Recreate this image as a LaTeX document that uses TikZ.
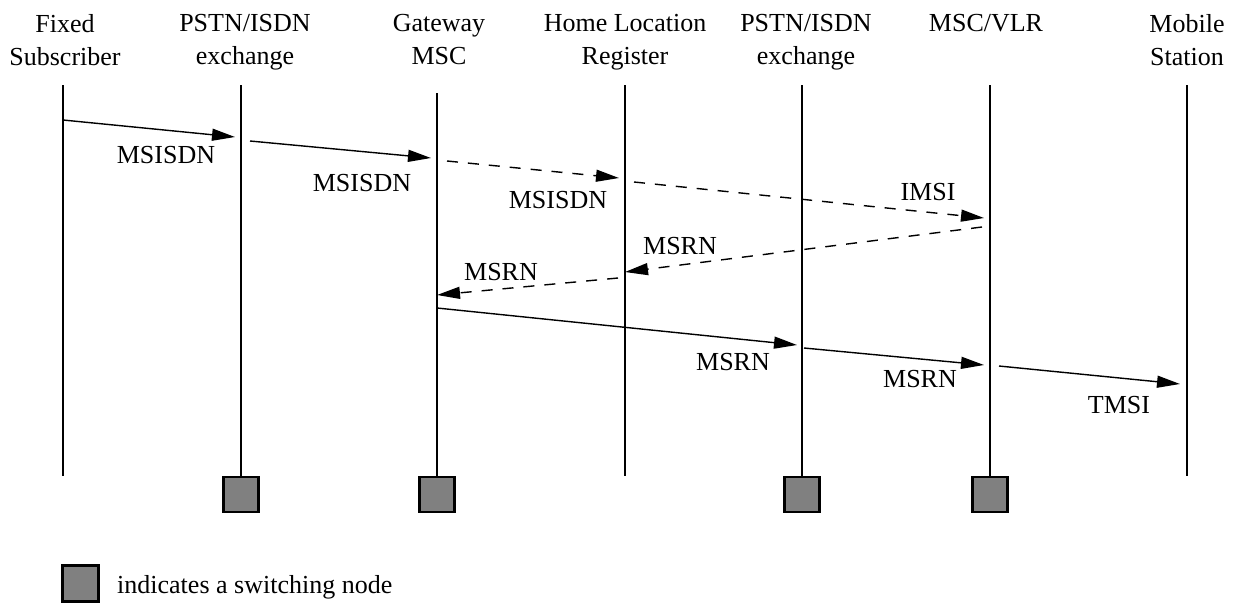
\documentclass[tikz,border=0pt]{standalone}
\usepackage{fontspec}
\setmainfont{Liberation Serif}
\usetikzlibrary{arrows.meta}
\definecolor{boxgray}{RGB}{128,128,128}
\begin{document}
\begin{tikzpicture}[x=1pt,y=-1pt,
  every node/.style={font=\fontsize{26}{33}\selectfont},
  head/.style={align=center,anchor=north,inner sep=0pt},
  life/.style={line width=2.8pt},
  msg/.style={line width=1.4pt,-{Triangle[length=23pt,width=12pt]}},
  async/.style={msg,dash pattern=on 11pt off 10pt},
  lbl/.style={inner sep=0pt},
  swbox/.style={draw,line width=2.4pt,fill=boxgray,minimum size=35pt,inner sep=0pt}]
\useasboundingbox (0,0) rectangle (1241,603);

% headers
\node[head] (hF) at (65,14) {Fixed\\Subscriber};
\node[head] (hP1) at (245,14) {PSTN/ISDN\\exchange};
\node[head] (hG) at (439,14) {Gateway\\MSC};
\node[head] (hH) at (625,14) {Home Location\\Register};
\node[head] (hP2) at (806,14) {PSTN/ISDN\\exchange};
\node[head] (hM) at (986,14) {MSC/VLR};
\node[head] (hMS) at (1187,14) {Mobile\\Station};

% lifeline ends
\coordinate (tF) at (63,85);   \coordinate (bF) at (63,476);
\coordinate (tP1) at (241,85); \coordinate (bP1) at (241,476);
\coordinate (tG) at (437,93);  \coordinate (bG) at (437,476);
\coordinate (tH) at (625,85);  \coordinate (bH) at (625,476);
\coordinate (tP2) at (802,85); \coordinate (bP2) at (802,476);
\coordinate (tM) at (990,85);  \coordinate (bM) at (990,476);
\coordinate (tMS) at (1187,85);\coordinate (bMS) at (1187,476);

\foreach \n in {F,P1,G,H,P2,M,MS} {\draw[life] (t\n) -- (b\n);}

% switching nodes
\node[swbox] (sP1) at (241,494.5) {};
\node[swbox] (sG) at (437,494.5) {};
\node[swbox] (sP2) at (802,494.5) {};
\node[swbox] (sM) at (990,494.5) {};

% message end points
\coordinate (a1s) at (63,120);  \coordinate (a1e) at (235,137);
\coordinate (a2s) at (250,141); \coordinate (a2e) at (431,158);
\coordinate (a3s) at (447,161); \coordinate (a3e) at (619,178);
\coordinate (a4s) at (634,182); \coordinate (a4e) at (984,218);
\coordinate (a5s) at (982,227); \coordinate (a5e) at (625,272);
\coordinate (a6s) at (618,278); \coordinate (a6e) at (437,295);
\coordinate (a7s) at (437,308); \coordinate (a7e) at (797,345);
\coordinate (a8s) at (804,348); \coordinate (a8e) at (984,365);
\coordinate (a9s) at (999,366); \coordinate (a9e) at (1180,384);

\draw[msg] (a1s) -- (a1e);
\draw[msg] (a2s) -- (a2e);
\draw[async] (a3s) -- (a3e);
\draw[async] (a4s) -- (a4e);
\draw[async] (a5s) -- (a5e);
\draw[async] (a6s) -- (a6e);
\draw[msg] (a7s) -- (a7e);
\draw[msg] (a8s) -- (a8e);
\draw[msg] (a9s) -- (a9e);

% labels
\node[lbl] (l1) at (166,155) {MSISDN};
\node[lbl] (l2) at (362,183) {MSISDN};
\node[lbl] (l3) at (558,200) {MSISDN};
\node[lbl] (l4) at (928,192) {IMSI};
\node[lbl] (l5) at (680,246) {MSRN};
\node[lbl] (l6) at (501,272) {MSRN};
\node[lbl] (l7) at (733,362) {MSRN};
\node[lbl] (l8) at (920,379) {MSRN};
\node[lbl] (l9) at (1119,405) {TMSI};

% legend
\node[swbox,minimum size=36pt] (leg) at (80.5,583.5) {};
\node[lbl,anchor=base west] (legt) at (117,593) {indicates a switching node};
\end{tikzpicture}
\end{document}
